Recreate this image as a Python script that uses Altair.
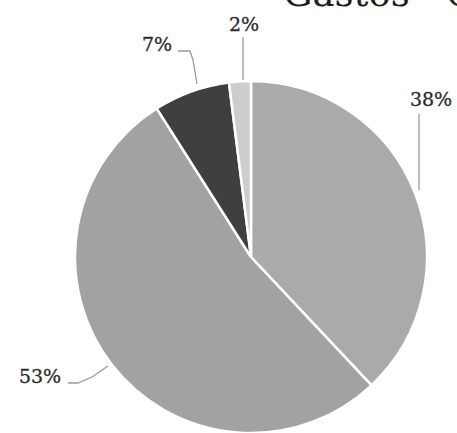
import altair as alt
import pandas as pd

# ---- data ----
slices = ["A", "B", "C", "D"]
shares = [38, 53, 7, 2]
labels = ["38%", "53%", "7%", "2%"]
slice_colors = ["#aaaaaa", "#a2a2a2", "#3f3f3f", "#cdcdcd"]
title_text = "Gastos - C"

# ---- layout (annotation placement, pixels) ----
label_pos = {"38%": (431, 100), "53%": (40, 377), "7%": (157, 45), "2%": (244, 25)}
leaders = {
    "38%": [(419, 114), (419, 190)],
    "53%": [(68, 383), (78, 383), (92, 377), (108, 366)],
    "7%": [(178, 51), (190, 51), (193, 60), (197, 84)],
    "2%": [(243, 37), (243, 80)],
}
W, H = 457, 433
CX, CY, R = 251, 257, 176

pie_df = pd.DataFrame({"slice": slices, "share": shares, "order": list(range(len(slices)))})

lab_df = pd.DataFrame({
    "label": labels,
    "px": [label_pos[l][0] for l in labels],
    "py": [label_pos[l][1] for l in labels],
})

rows = []
for l in labels:
    for i, (x, y) in enumerate(leaders[l]):
        rows.append({"label": l, "i": i, "px": x, "py": y})
lead_df = pd.DataFrame(rows)

title_df = pd.DataFrame({"t": [title_text], "px": [283], "py": [6]})

xs = alt.Scale(domain=[0, W], range=[0, W])
ys = alt.Scale(domain=[0, H], range=[0, H])

pie = alt.Chart(pie_df).mark_arc(radius=R, stroke="white", strokeWidth=2.5).encode(
    theta=alt.Theta("share:Q", stack=True),
    order=alt.Order("order:Q"),
    color=alt.Color("slice:N", scale=alt.Scale(domain=slices, range=slice_colors), legend=None),
    x=alt.value(CX),
    y=alt.value(CY),
)

lead = alt.Chart(lead_df).mark_line(color="#999999", strokeWidth=1.3).encode(
    x=alt.X("px:Q", scale=xs, axis=None),
    y=alt.Y("py:Q", scale=ys, axis=None),
    detail="label:N",
    order="i:Q",
)

txt = alt.Chart(lab_df).mark_text(
    font="DejaVu Serif", fontSize=19, color="#2b2b2b", baseline="middle", align="center",
    stroke="#2b2b2b", strokeWidth=0.3,
).encode(
    x=alt.X("px:Q", scale=xs, axis=None),
    y=alt.Y("py:Q", scale=ys, axis=None),
    text="label:N",
)

title = alt.Chart(title_df).mark_text(
    font="DejaVu Serif", fontSize=37, color="#1e1e1e", baseline="alphabetic", align="left"
).encode(
    x=alt.X("px:Q", scale=xs, axis=None),
    y=alt.Y("py:Q", scale=ys, axis=None),
    text="t:N",
)

chart = alt.layer(pie, lead, txt, title).properties(
    width=W, height=H, autosize=alt.AutoSizeParams(type="none"), padding=0,
    background="white",
).configure_view(stroke=None)

chart.save("out.html", embed_options={"renderer": "svg", "actions": False})
